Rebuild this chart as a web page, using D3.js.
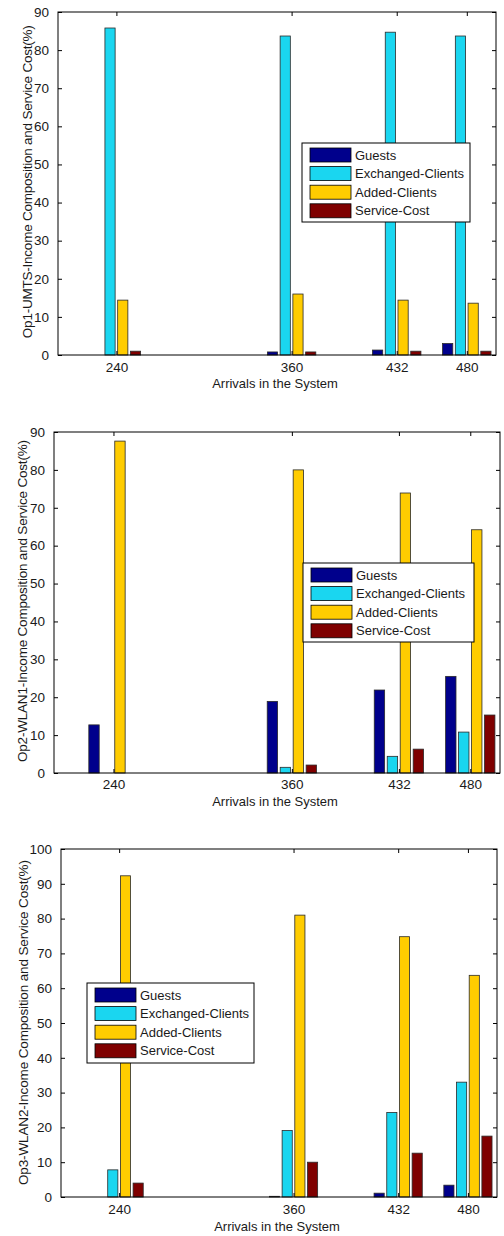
<!DOCTYPE html>
<html>
<head>
<meta charset="utf-8">
<script src="https://cdn.jsdelivr.net/npm/d3@7"></script>
<style>
  html, body { margin: 0; padding: 0; background: #fff; }
  svg { display: block; }
  text { font-family: "Liberation Sans", Arial, Helvetica, sans-serif; fill: #1a1a1a; }
</style>
</head>
<body>
<svg id="chart" width="504" height="1236"></svg>
<script>
// ---- data ----
const arrivals = [240, 360, 432, 480];
const xTickLabels = ["240", "360", "432", "480"];
const seriesNames = ["Guests", "Exchanged-Clients", "Added-Clients", "Service-Cost"];
const seriesColors = ["#00008c", "#1ad6f0", "#ffcc00", "#7f0000"];

// Op1-UMTS
const op1Guests    = [0, 0.8, 1.3, 3.0];
const op1Exchanged = [85.8, 83.7, 84.7, 83.7];
const op1Added     = [14.4, 16.0, 14.4, 13.6];
const op1Service   = [1.0, 0.8, 1.0, 1.0];

// Op2-WLAN1
const op2Guests    = [12.7, 18.9, 21.9, 25.5];
const op2Exchanged = [0, 1.5, 4.4, 10.8];
const op2Added     = [87.6, 80.0, 73.9, 64.2];
const op2Service   = [0, 2.1, 6.3, 15.3];

// Op3-WLAN2
const op3Guests    = [0, 0.2, 1.1, 3.4];
const op3Exchanged = [7.8, 19.1, 24.3, 33.0];
const op3Added     = [92.3, 81.0, 74.8, 63.7];
const op3Service   = [4.0, 10.0, 12.6, 17.5];

const yTicks90 = [0, 10, 20, 30, 40, 50, 60, 70, 80, 90];
const yTicks100 = [0, 10, 20, 30, 40, 50, 60, 70, 80, 90, 100];

const xLabel = "Arrivals in the System";
const yLabels = [
  "Op1-UMTS-Income Composition and Service Cost(%)",
  "Op2-WLAN1-Income Composition and Service Cost(%)",
  "Op3-WLAN2-Income Composition and Service Cost(%)"
];

// ---- layout ----
const panels = [
  { series: [op1Guests, op1Exchanged, op1Added, op1Service], yMax: 90, yTicks: yTicks90,
    left: 58, right: 496, top: 12, bottom: 355,
    ylabX: 27, ylabY: 181.7, ylabLen: 313, xlabY: 387.7, tickY: 367,
    legend: { x: 302, y: 143, w: 168, h: 79 } },
  { series: [op2Guests, op2Exchanged, op2Added, op2Service], yMax: 90, yTicks: yTicks90,
    left: 54, right: 500, top: 432, bottom: 773,
    ylabX: 22, ylabY: 601, ylabLen: 322, xlabY: 806.2, tickY: 784,
    legend: { x: 303, y: 563, w: 171, h: 79 } },
  { series: [op3Guests, op3Exchanged, op3Added, op3Service], yMax: 100, yTicks: yTicks100,
    left: 61, right: 497, top: 849, bottom: 1197,
    ylabX: 23, ylabY: 1022.5, ylabLen: 325, xlabY: 1230.7, tickY: 1209.3,
    legend: { x: 87, y: 983, w: 167, h: 80 } }
];

const svg = d3.select("#chart");
const nS = seriesNames.length;
const minGap = 48;
const groupW = minGap * Math.min(0.8, nS / (nS + 1.5));
const slot = groupW / nS;
const barW = slot * 0.8;
const tickLen = 4;

panels.forEach((p, pi) => {
  const g = svg.append("g");
  const x = d3.scaleLinear().domain([200, 500]).range([p.left, p.right]);
  const y = d3.scaleLinear().domain([0, p.yMax]).range([p.bottom, p.top]);

  // bars
  p.series.forEach((vals, si) => {
    g.selectAll(null).data(vals).enter().append("rect")
      .attr("x", (d, i) => x(arrivals[i] + (si - (nS - 1) / 2) * slot - barW / 2))
      .attr("width", (d, i) => x(arrivals[i] + barW) - x(arrivals[i]))
      .attr("y", d => y(d))
      .attr("height", d => Math.max(0, y(0) - y(d)))
      .attr("fill", seriesColors[si])
      .attr("stroke", d => d > 0 ? "#2a2a2a" : "none")
      .attr("stroke-width", 0.8);
  });

  // axes box
  g.append("rect")
    .attr("x", p.left).attr("y", p.top)
    .attr("width", p.right - p.left).attr("height", p.bottom - p.top)
    .attr("fill", "none").attr("stroke", "#000").attr("stroke-width", 1);

  // x axis ticks (inside), bottom and top
  const xAxisB = d3.axisBottom(x).tickValues(arrivals).tickFormat((d, i) => xTickLabels[i])
    .tickSizeInner(-tickLen).tickSizeOuter(0);
  const gxb = g.append("g").attr("transform", `translate(0,${p.bottom})`).call(xAxisB);
  gxb.select(".domain").remove();
  gxb.selectAll("text").attr("font-size", "13.5px").attr("fill", "#1a1a1a")
    .attr("font-family", "Liberation Sans, Arial, sans-serif")
    .attr("y", p.tickY - p.bottom).attr("dy", null)
    .attr("dominant-baseline", "central");
  const xAxisT = d3.axisTop(x).tickValues(arrivals).tickFormat("")
    .tickSizeInner(-tickLen).tickSizeOuter(0);
  const gxt = g.append("g").attr("transform", `translate(0,${p.top})`).call(xAxisT);
  gxt.select(".domain").remove();

  // y axis ticks (inside), left and right
  const yAxisL = d3.axisLeft(y).tickValues(p.yTicks).tickFormat(d3.format("d"))
    .tickSizeInner(-tickLen).tickSizeOuter(0).tickPadding(9);
  const gyl = g.append("g").attr("transform", `translate(${p.left},0)`).call(yAxisL);
  gyl.select(".domain").remove();
  gyl.selectAll("text").attr("font-size", "13.5px").attr("fill", "#1a1a1a")
    .attr("font-family", "Liberation Sans, Arial, sans-serif");
  const yAxisR = d3.axisRight(y).tickValues(p.yTicks).tickFormat("")
    .tickSizeInner(-tickLen).tickSizeOuter(0);
  const gyr = g.append("g").attr("transform", `translate(${p.right},0)`).call(yAxisR);
  gyr.select(".domain").remove();
  g.selectAll(".tick line").attr("stroke", "#000");

  // labels
  g.append("text")
    .attr("x", (p.left + p.right) / 2 - 2).attr("y", p.xlabY)
    .attr("text-anchor", "middle").attr("font-size", "13px")
    .text(xLabel);
  g.append("text")
    .attr("transform", `translate(${p.ylabX},${p.ylabY}) rotate(-90)`)
    .attr("text-anchor", "middle").attr("dominant-baseline", "central")
    .attr("font-size", "13.5px")
    .attr("textLength", p.ylabLen).attr("lengthAdjust", "spacing")
    .text(yLabels[pi]);

  // legend
  const L = p.legend;
  const lg = g.append("g").attr("transform", `translate(${L.x},${L.y})`);
  lg.append("rect").attr("width", L.w).attr("height", L.h)
    .attr("fill", "#fff").attr("stroke", "#000").attr("stroke-width", 1);
  const rowH = 18.6;
  seriesNames.forEach((name, si) => {
    const cy = 12 + si * rowH;
    lg.append("rect").attr("x", 8).attr("y", cy - 7).attr("width", 41).attr("height", 14)
      .attr("fill", seriesColors[si]).attr("stroke", "#000").attr("stroke-width", 0.8);
    lg.append("text").attr("x", 53).attr("y", cy).attr("dominant-baseline", "central")
      .attr("font-size", "13px").text(name);
  });
});
</script>
</body>
</html>
